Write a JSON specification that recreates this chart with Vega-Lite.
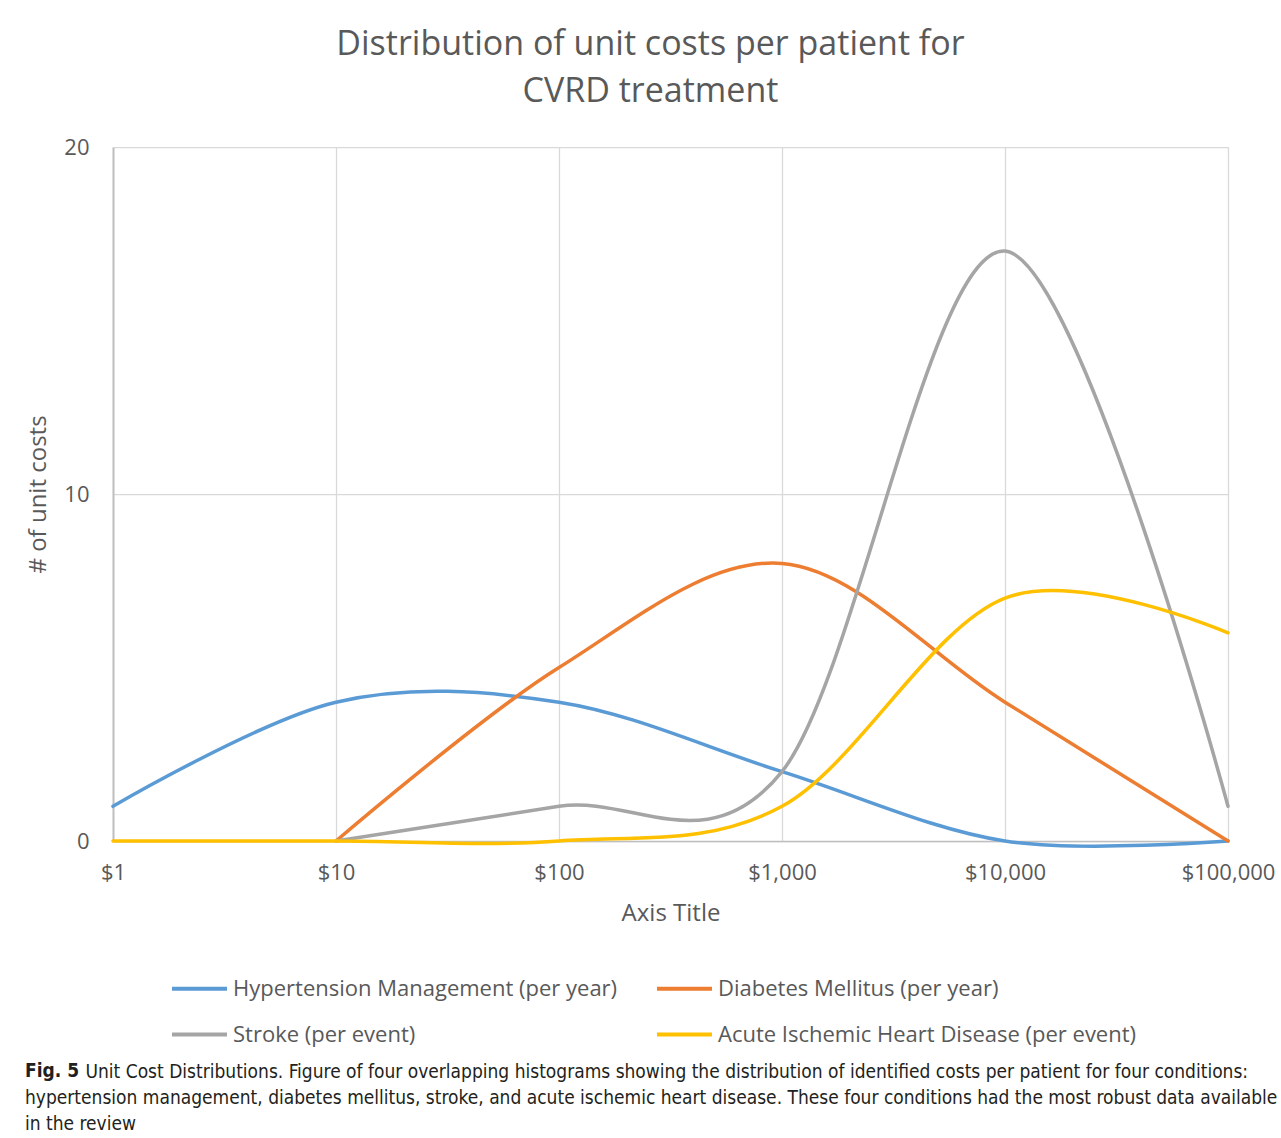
{
  "$schema": "https://vega.github.io/schema/vega-lite/v6.json",
  "width": 1115,
  "height": 694,
  "autosize": {"type": "none"},
  "padding": {"left": 113, "top": 147, "right": 53, "bottom": 297},
  "background": "white",
  "config": {
    "view": {"stroke": null},
    "font": "Open Sans"
  },
  "title": {
    "text": "Fig. 5",
    "subtitle": [
      "hypertension management, diabetes mellitus, stroke, and acute ischemic heart disease. These four conditions had the most robust data available",
      "in the review"
    ],
    "orient": "bottom",
    "anchor": "start",
    "frame": "group",
    "dx": -88,
    "offset": -19,
    "baseline": "top",
    "font": "Liberation Sans Narrow, DejaVu Sans Condensed, Roboto",
    "fontWeight": "bold",
    "fontSize": 19,
    "color": "#231f20",
    "subtitleFont": "Liberation Sans Narrow, DejaVu Sans Condensed, Roboto",
    "subtitleFontSize": 19,
    "subtitleColor": "#231f20",
    "subtitleLineHeight": 26,
    "subtitlePadding": 8
  },
  "data": {
    "values": [
      {"cost": 1, "count": 1, "series": "Hypertension Management (per year)"},
      {"cost": 10, "count": 4, "series": "Hypertension Management (per year)"},
      {"cost": 100, "count": 4, "series": "Hypertension Management (per year)"},
      {"cost": 1000, "count": 2, "series": "Hypertension Management (per year)"},
      {"cost": 10000, "count": 0, "series": "Hypertension Management (per year)"},
      {"cost": 100000, "count": 0, "series": "Hypertension Management (per year)"},
      {"cost": 10, "count": 0, "series": "Diabetes Mellitus (per year)"},
      {"cost": 100, "count": 5, "series": "Diabetes Mellitus (per year)"},
      {"cost": 1000, "count": 8, "series": "Diabetes Mellitus (per year)"},
      {"cost": 10000, "count": 4, "series": "Diabetes Mellitus (per year)"},
      {"cost": 100000, "count": 0, "series": "Diabetes Mellitus (per year)"},
      {"cost": 10, "count": 0, "series": "Stroke (per event)"},
      {"cost": 100, "count": 1, "series": "Stroke (per event)"},
      {"cost": 1000, "count": 2, "series": "Stroke (per event)"},
      {"cost": 10000, "count": 17, "series": "Stroke (per event)"},
      {"cost": 100000, "count": 1, "series": "Stroke (per event)"},
      {"cost": 1, "count": 0, "series": "Acute Ischemic Heart Disease (per event)"},
      {"cost": 10, "count": 0, "series": "Acute Ischemic Heart Disease (per event)"},
      {"cost": 100, "count": 0, "series": "Acute Ischemic Heart Disease (per event)"},
      {"cost": 1000, "count": 1, "series": "Acute Ischemic Heart Disease (per event)"},
      {"cost": 10000, "count": 7, "series": "Acute Ischemic Heart Disease (per event)"},
      {"cost": 100000, "count": 6, "series": "Acute Ischemic Heart Disease (per event)"}
    ]
  },
  "layer": [
    {
      "mark": {"type": "line", "interpolate": "cardinal", "strokeWidth": 3.5, "strokeCap": "round", "strokeJoin": "round"},
      "encoding": {
        "x": {
          "field": "cost", "type": "quantitative",
          "scale": {"type": "log", "domain": [1, 100000], "nice": false},
          "axis": {
            "orient": "bottom",
            "values": [1, 10, 100, 1000, 10000, 100000],
            "format": "$,.0f",
            "title": "Axis Title",
            "titleFont": "Open Sans", "titleFontSize": 24, "titleFontWeight": "normal", "titleColor": "#595959", "titlePadding": 18,
            "labelFont": "Open Sans", "labelFontSize": 22, "labelColor": "#595959", "labelPadding": 21,
            "ticks": false, "tickSize": 0,
            "domainColor": "#BFBFBF", "domainWidth": 1.5,
            "grid": true, "gridColor": "#D9D9D9", "gridWidth": 1.25,
            "labelFlush": false, "labelOverlap": false
          }
        },
        "y": {
          "field": "count", "type": "quantitative",
          "scale": {"domain": [0, 20], "nice": false},
          "axis": {
            "values": [0, 10, 20],
            "title": "# of unit costs",
            "titleFont": "Open Sans", "titleFontSize": 24, "titleFontWeight": "normal", "titleColor": "#595959", "titlePadding": 13,
            "labelFont": "Open Sans", "labelFontSize": 22, "labelColor": "#595959", "labelPadding": 24,
            "ticks": false, "tickSize": 0,
            "domainColor": "#BFBFBF", "domainWidth": 2,
            "grid": true, "gridColor": "#D9D9D9", "gridWidth": 1.25,
            "labelFlush": false
          }
        },
        "color": {
          "field": "series", "type": "nominal",
          "scale": {
            "domain": ["Hypertension Management (per year)", "Diabetes Mellitus (per year)", "Stroke (per event)", "Acute Ischemic Heart Disease (per event)"],
            "range": ["#5B9BD5", "#ED7D31", "#A5A5A5", "#FFC000"]
          },
          "legend": {
            "orient": "none", "legendX": 57, "legendY": 812,
            "direction": "horizontal",
            "columns": 2, "title": null,
            "symbolType": "stroke", "symbolSize": 3025, "symbolStrokeWidth": 4,
            "labelFont": "Open Sans", "labelFontSize": 22, "labelColor": "#595959", "labelOffset": 4, "labelLimit": 0,
            "columnPadding": 31, "rowPadding": 5
          }
        }
      }
    },
    {
      "mark": {"type": "rule", "strokeOpacity": 0},
      "encoding": {
        "x": {
          "field": "cost", "type": "quantitative",
          "axis": {
            "orient": "top",
            "title": ["Distribution of unit costs per patient for", "CVRD treatment"],
            "titleFont": "Open Sans", "titleFontSize": 34, "titleFontWeight": "normal", "titleColor": "#595959",
            "titleX": 537, "titleY": -103, "titleAlign": "center", "titleBaseline": "middle", "titleLineHeight": 47, "titleAngle": 0,
            "labels": false, "ticks": false, "domain": false, "grid": false
          }
        }
      }
    },
    {
      "mark": {"type": "rule", "strokeOpacity": 0},
      "encoding": {
        "x": {
          "field": "cost", "type": "quantitative",
          "axis": {
            "orient": "bottom",
            "title": "Unit Cost Distributions. Figure of four overlapping histograms showing the distribution of identified costs per patient for four conditions:",
            "titleFont": "Liberation Sans Narrow, DejaVu Sans Condensed, Roboto", "titleFontSize": 19, "titleFontWeight": "normal", "titleColor": "#231f20",
            "titleX": -28, "titleY": 221, "titleAlign": "left", "titleBaseline": "top", "titleAngle": 0, "titleLimit": 0,
            "labels": false, "ticks": false, "domain": false, "grid": false
          }
        }
      }
    }
  ],
  "resolve": {"axis": {"x": "independent"}}
}
